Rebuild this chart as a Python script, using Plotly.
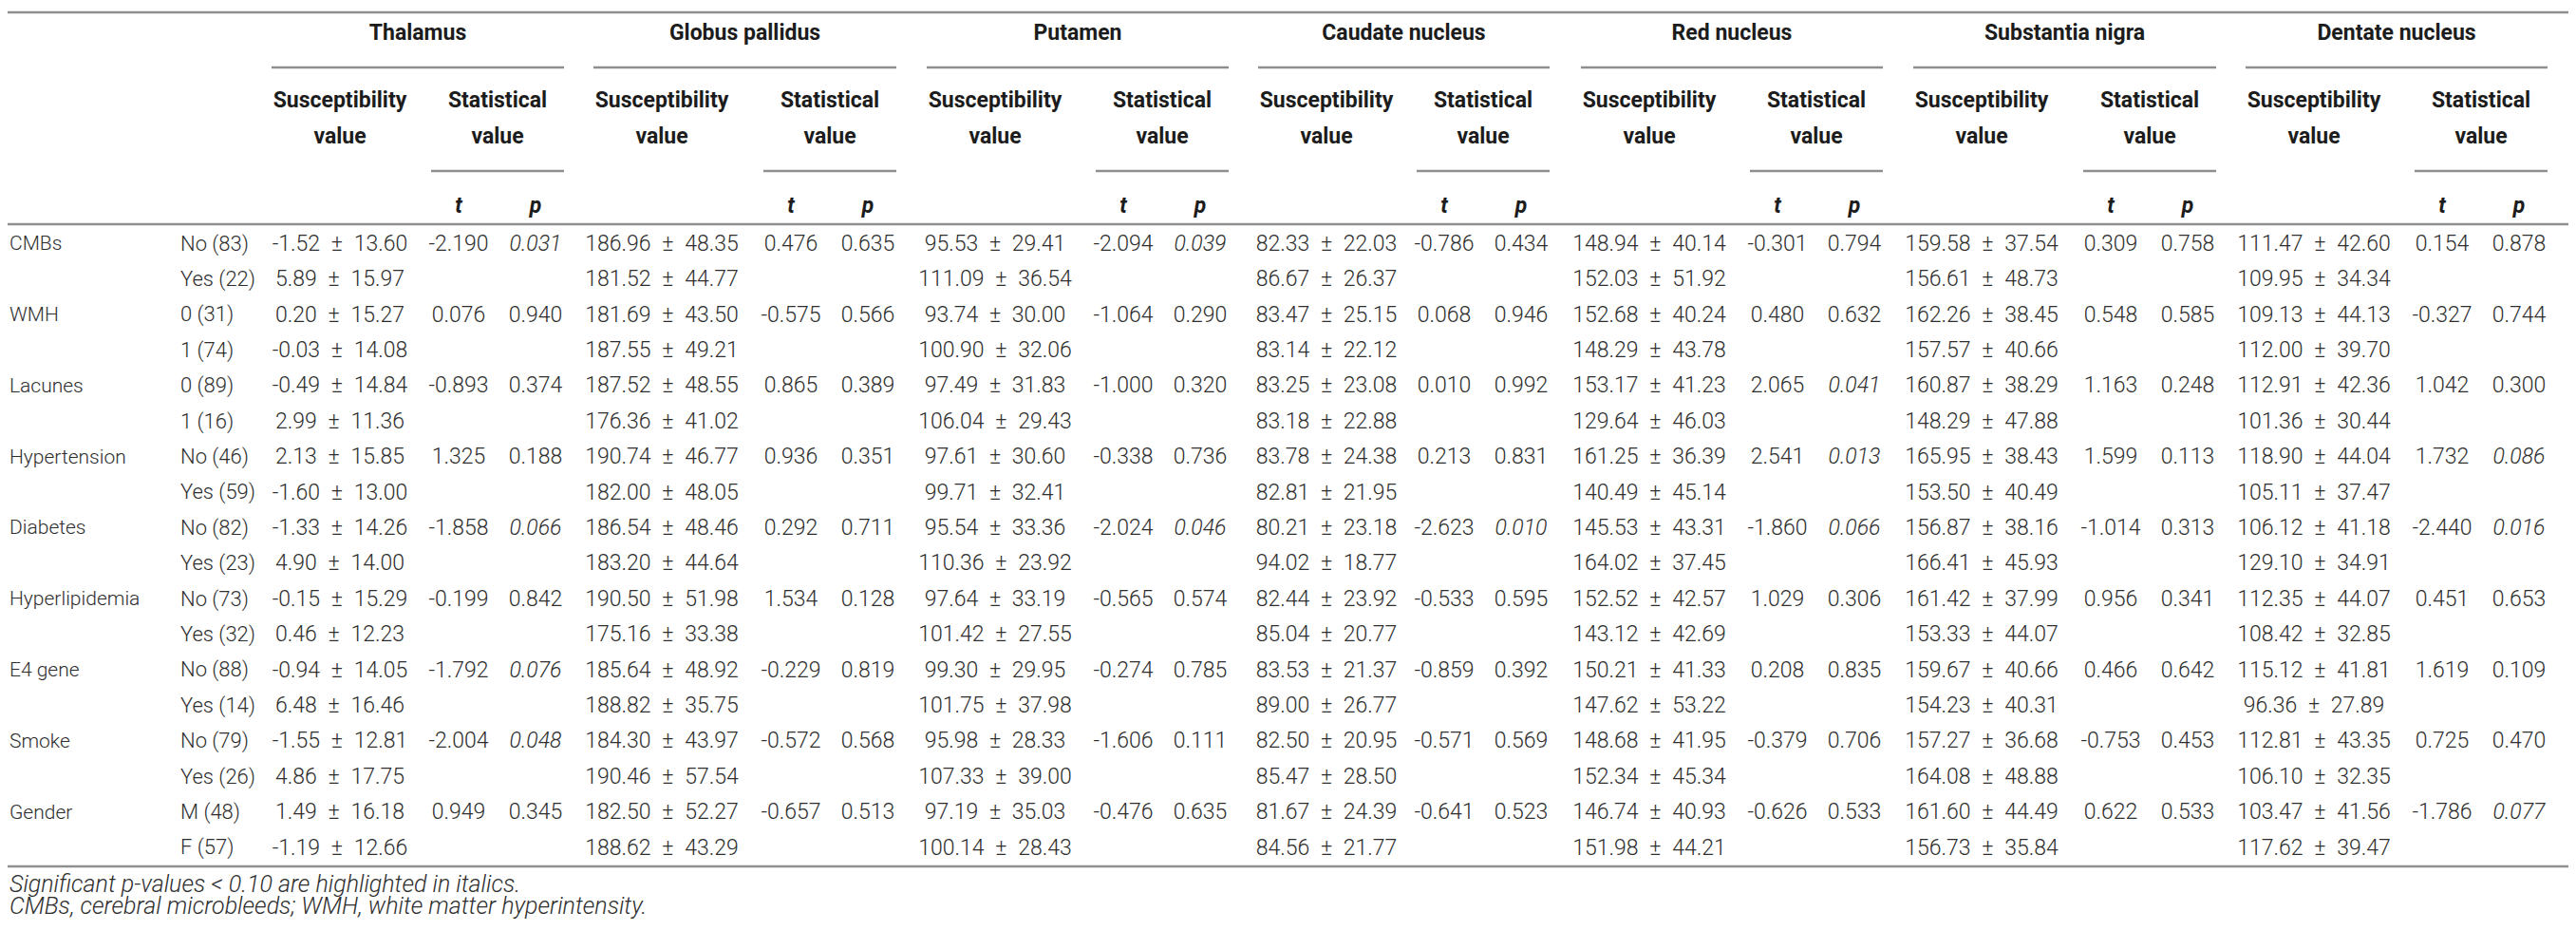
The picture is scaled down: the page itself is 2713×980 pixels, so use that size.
import plotly.graph_objects as go

# table content
regions = ["Thalamus", "Globus pallidus", "Putamen", "Caudate nucleus",
           "Red nucleus", "Substantia nigra", "Dentate nucleus"]

variables = ["CMBs", "WMH", "Lacunes", "Hypertension", "Diabetes",
             "Hyperlipidemia", "E4 gene", "Smoke", "Gender"]

levels = ["No (83)", "Yes (22)", "0 (31)", "1 (74)", "0 (89)", "1 (16)",
          "No (46)", "Yes (59)", "No (82)", "Yes (23)", "No (73)", "Yes (32)",
          "No (88)", "Yes (14)", "No (79)", "Yes (26)", "M (48)", "F (57)"]

thal_mean = [-1.52, 5.89, 0.20, -0.03, -0.49, 2.99, 2.13, -1.60, -1.33, 4.90,
             -0.15, 0.46, -0.94, 6.48, -1.55, 4.86, 1.49, -1.19]
thal_sd = [13.60, 15.97, 15.27, 14.08, 14.84, 11.36, 15.85, 13.00, 14.26, 14.00,
           15.29, 12.23, 14.05, 16.46, 12.81, 17.75, 16.18, 12.66]
thal_t = [-2.190, 0.076, -0.893, 1.325, -1.858, -0.199, -1.792, -2.004, 0.949]
thal_p = [0.031, 0.940, 0.374, 0.188, 0.066, 0.842, 0.076, 0.048, 0.345]

gp_mean = [186.96, 181.52, 181.69, 187.55, 187.52, 176.36, 190.74, 182.00, 186.54,
           183.20, 190.50, 175.16, 185.64, 188.82, 184.30, 190.46, 182.50, 188.62]
gp_sd = [48.35, 44.77, 43.50, 49.21, 48.55, 41.02, 46.77, 48.05, 48.46, 44.64,
         51.98, 33.38, 48.92, 35.75, 43.97, 57.54, 52.27, 43.29]
gp_t = [0.476, -0.575, 0.865, 0.936, 0.292, 1.534, -0.229, -0.572, -0.657]
gp_p = [0.635, 0.566, 0.389, 0.351, 0.711, 0.128, 0.819, 0.568, 0.513]

put_mean = [95.53, 111.09, 93.74, 100.90, 97.49, 106.04, 97.61, 99.71, 95.54,
            110.36, 97.64, 101.42, 99.30, 101.75, 95.98, 107.33, 97.19, 100.14]
put_sd = [29.41, 36.54, 30.00, 32.06, 31.83, 29.43, 30.60, 32.41, 33.36, 23.92,
          33.19, 27.55, 29.95, 37.98, 28.33, 39.00, 35.03, 28.43]
put_t = [-2.094, -1.064, -1.000, -0.338, -2.024, -0.565, -0.274, -1.606, -0.476]
put_p = [0.039, 0.290, 0.320, 0.736, 0.046, 0.574, 0.785, 0.111, 0.635]

cau_mean = [82.33, 86.67, 83.47, 83.14, 83.25, 83.18, 83.78, 82.81, 80.21, 94.02,
            82.44, 85.04, 83.53, 89.00, 82.50, 85.47, 81.67, 84.56]
cau_sd = [22.03, 26.37, 25.15, 22.12, 23.08, 22.88, 24.38, 21.95, 23.18, 18.77,
          23.92, 20.77, 21.37, 26.77, 20.95, 28.50, 24.39, 21.77]
cau_t = [-0.786, 0.068, 0.010, 0.213, -2.623, -0.533, -0.859, -0.571, -0.641]
cau_p = [0.434, 0.946, 0.992, 0.831, 0.010, 0.595, 0.392, 0.569, 0.523]

red_mean = [148.94, 152.03, 152.68, 148.29, 153.17, 129.64, 161.25, 140.49, 145.53,
            164.02, 152.52, 143.12, 150.21, 147.62, 148.68, 152.34, 146.74, 151.98]
red_sd = [40.14, 51.92, 40.24, 43.78, 41.23, 46.03, 36.39, 45.14, 43.31, 37.45,
          42.57, 42.69, 41.33, 53.22, 41.95, 45.34, 40.93, 44.21]
red_t = [-0.301, 0.480, 2.065, 2.541, -1.860, 1.029, 0.208, -0.379, -0.626]
red_p = [0.794, 0.632, 0.041, 0.013, 0.066, 0.306, 0.835, 0.706, 0.533]

sn_mean = [159.58, 156.61, 162.26, 157.57, 160.87, 148.29, 165.95, 153.50, 156.87,
           166.41, 161.42, 153.33, 159.67, 154.23, 157.27, 164.08, 161.60, 156.73]
sn_sd = [37.54, 48.73, 38.45, 40.66, 38.29, 47.88, 38.43, 40.49, 38.16, 45.93,
         37.99, 44.07, 40.66, 40.31, 36.68, 48.88, 44.49, 35.84]
sn_t = [0.309, 0.548, 1.163, 1.599, -1.014, 0.956, 0.466, -0.753, 0.622]
sn_p = [0.758, 0.585, 0.248, 0.113, 0.313, 0.341, 0.642, 0.453, 0.533]

dn_mean = [111.47, 109.95, 109.13, 112.00, 112.91, 101.36, 118.90, 105.11, 106.12,
           129.10, 112.35, 108.42, 115.12, 96.36, 112.81, 106.10, 103.47, 117.62]
dn_sd = [42.60, 34.34, 44.13, 39.70, 42.36, 30.44, 44.04, 37.47, 41.18, 34.91,
         44.07, 32.85, 41.81, 27.89, 43.35, 32.35, 41.56, 39.47]
dn_t = [0.154, -0.327, 1.042, 1.732, -2.440, 0.451, 1.619, 0.725, -1.786]
dn_p = [0.878, 0.744, 0.300, 0.086, 0.016, 0.653, 0.109, 0.470, 0.077]

footnotes = ["Significant p-values < 0.10 are highlighted in italics.",
             "CMBs, cerebral microbleeds; WMH, white matter hyperintensity."]

means = [thal_mean, gp_mean, put_mean, cau_mean, red_mean, sn_mean, dn_mean]
sds = [thal_sd, gp_sd, put_sd, cau_sd, red_sd, sn_sd, dn_sd]
tvals = [thal_t, gp_t, put_t, cau_t, red_t, sn_t, dn_t]
pvals = [thal_p, gp_p, put_p, cau_p, red_p, sn_p, dn_p]

# layout of the table (pixel units on the axes)
W, H = 2713, 980
grp_start = [278, 617, 968, 1317, 1657, 2007, 2357]
grp_end = [586, 936, 1286, 1624, 1975, 2326, 2675]
row_y0, row_dy = 250, 37.4
x_var, x_lvl = 2, 182

FONT = "Roboto, Liberation Sans, Arial, sans-serif"
TXT = "#2e2e2e"
LINE = "#8f8f8f"
FS = 23

def row_y(i):
    return row_y0 + row_dy * i

# body cells
cx, cy, ct = [], [], []
for g in range(len(regions)):
    s, e = grp_start[g], grp_end[g]
    for i in range(len(levels)):
        cx.append(s + 72)
        cy.append(row_y(i))
        ct.append(f"{means[g][i]:.2f}\u2002\u00b1\u2002{sds[g][i]:.2f}")
    for k in range(len(variables)):
        cx.append(e - 111)
        cy.append(row_y(2 * k))
        ct.append(f"{tvals[g][k]:.3f}")
        p = pvals[g][k]
        cx.append(e - 30)
        cy.append(row_y(2 * k))
        ct.append(f"<i>{p:.3f}</i>" if p < 0.10 else f"{p:.3f}")

# left label columns
vy = [row_y(2 * k) for k in range(len(variables))]
ly = [row_y(i) for i in range(len(levels))]

# header cells
hx, hy, ht = [], [], []
for g, name in enumerate(regions):
    s, e = grp_start[g], grp_end[g]
    hx += [(s + e) / 2, s + 72, s + 72, e - 70, e - 70, e - 111, e - 30]
    hy += [28, 99, 137, 99, 137, 210, 210]
    ht += [name, "Susceptibility", "value", "Statistical", "value",
           "<i>t</i>", "<i>p</i>"]

fig = go.Figure()
fig.add_trace(go.Scatter(x=cx, y=cy, text=ct, mode="text", textposition="middle center",
                         textfont=dict(family=FONT, size=FS, color=TXT, weight=300),
                         hoverinfo="skip"))
fig.add_trace(go.Scatter(x=[x_var] * len(variables), y=vy, text=variables, mode="text",
                         textposition="middle right",
                         textfont=dict(family=FONT, size=21, color=TXT, weight=300),
                         hoverinfo="skip"))
fig.add_trace(go.Scatter(x=[x_lvl] * len(levels), y=ly, text=levels, mode="text",
                         textposition="middle right",
                         textfont=dict(family=FONT, size=22, color=TXT, weight=300),
                         hoverinfo="skip"))
fig.add_trace(go.Scatter(x=hx, y=hy, text=ht, mode="text", textposition="middle center",
                         textfont=dict(family=FONT, size=FS, color="#1c1c1c", weight=700),
                         hoverinfo="skip"))
fig.add_trace(go.Scatter(x=[x_var, x_var], y=[925, 948],
                         text=[f"<i>{f}</i>" for f in footnotes], mode="text",
                         textposition="middle right",
                         textfont=dict(family=FONT, size=25, color=TXT, weight=300),
                         hoverinfo="skip"))

# rules
def hline(x0, x1, y, w=2.5):
    fig.add_shape(type="line", x0=x0, x1=x1, y0=y, y1=y, xref="x", yref="y",
                  line=dict(color=LINE, width=w))

hline(0, 2706, 5)
hline(0, 2706, 228)
hline(0, 2706, 904)
for g in range(len(regions)):
    hline(grp_start[g], grp_end[g], 63)
    hline(grp_end[g] - 140, grp_end[g], 172)

fig.update_layout(
    width=W, height=H,
    margin=dict(l=0, r=0, t=0, b=0),
    paper_bgcolor="white", plot_bgcolor="white",
    showlegend=False,
    xaxis=dict(range=[0, W], visible=False, fixedrange=True),
    yaxis=dict(range=[H, 0], visible=False, fixedrange=True),
)

fig.write_html("out.html")
